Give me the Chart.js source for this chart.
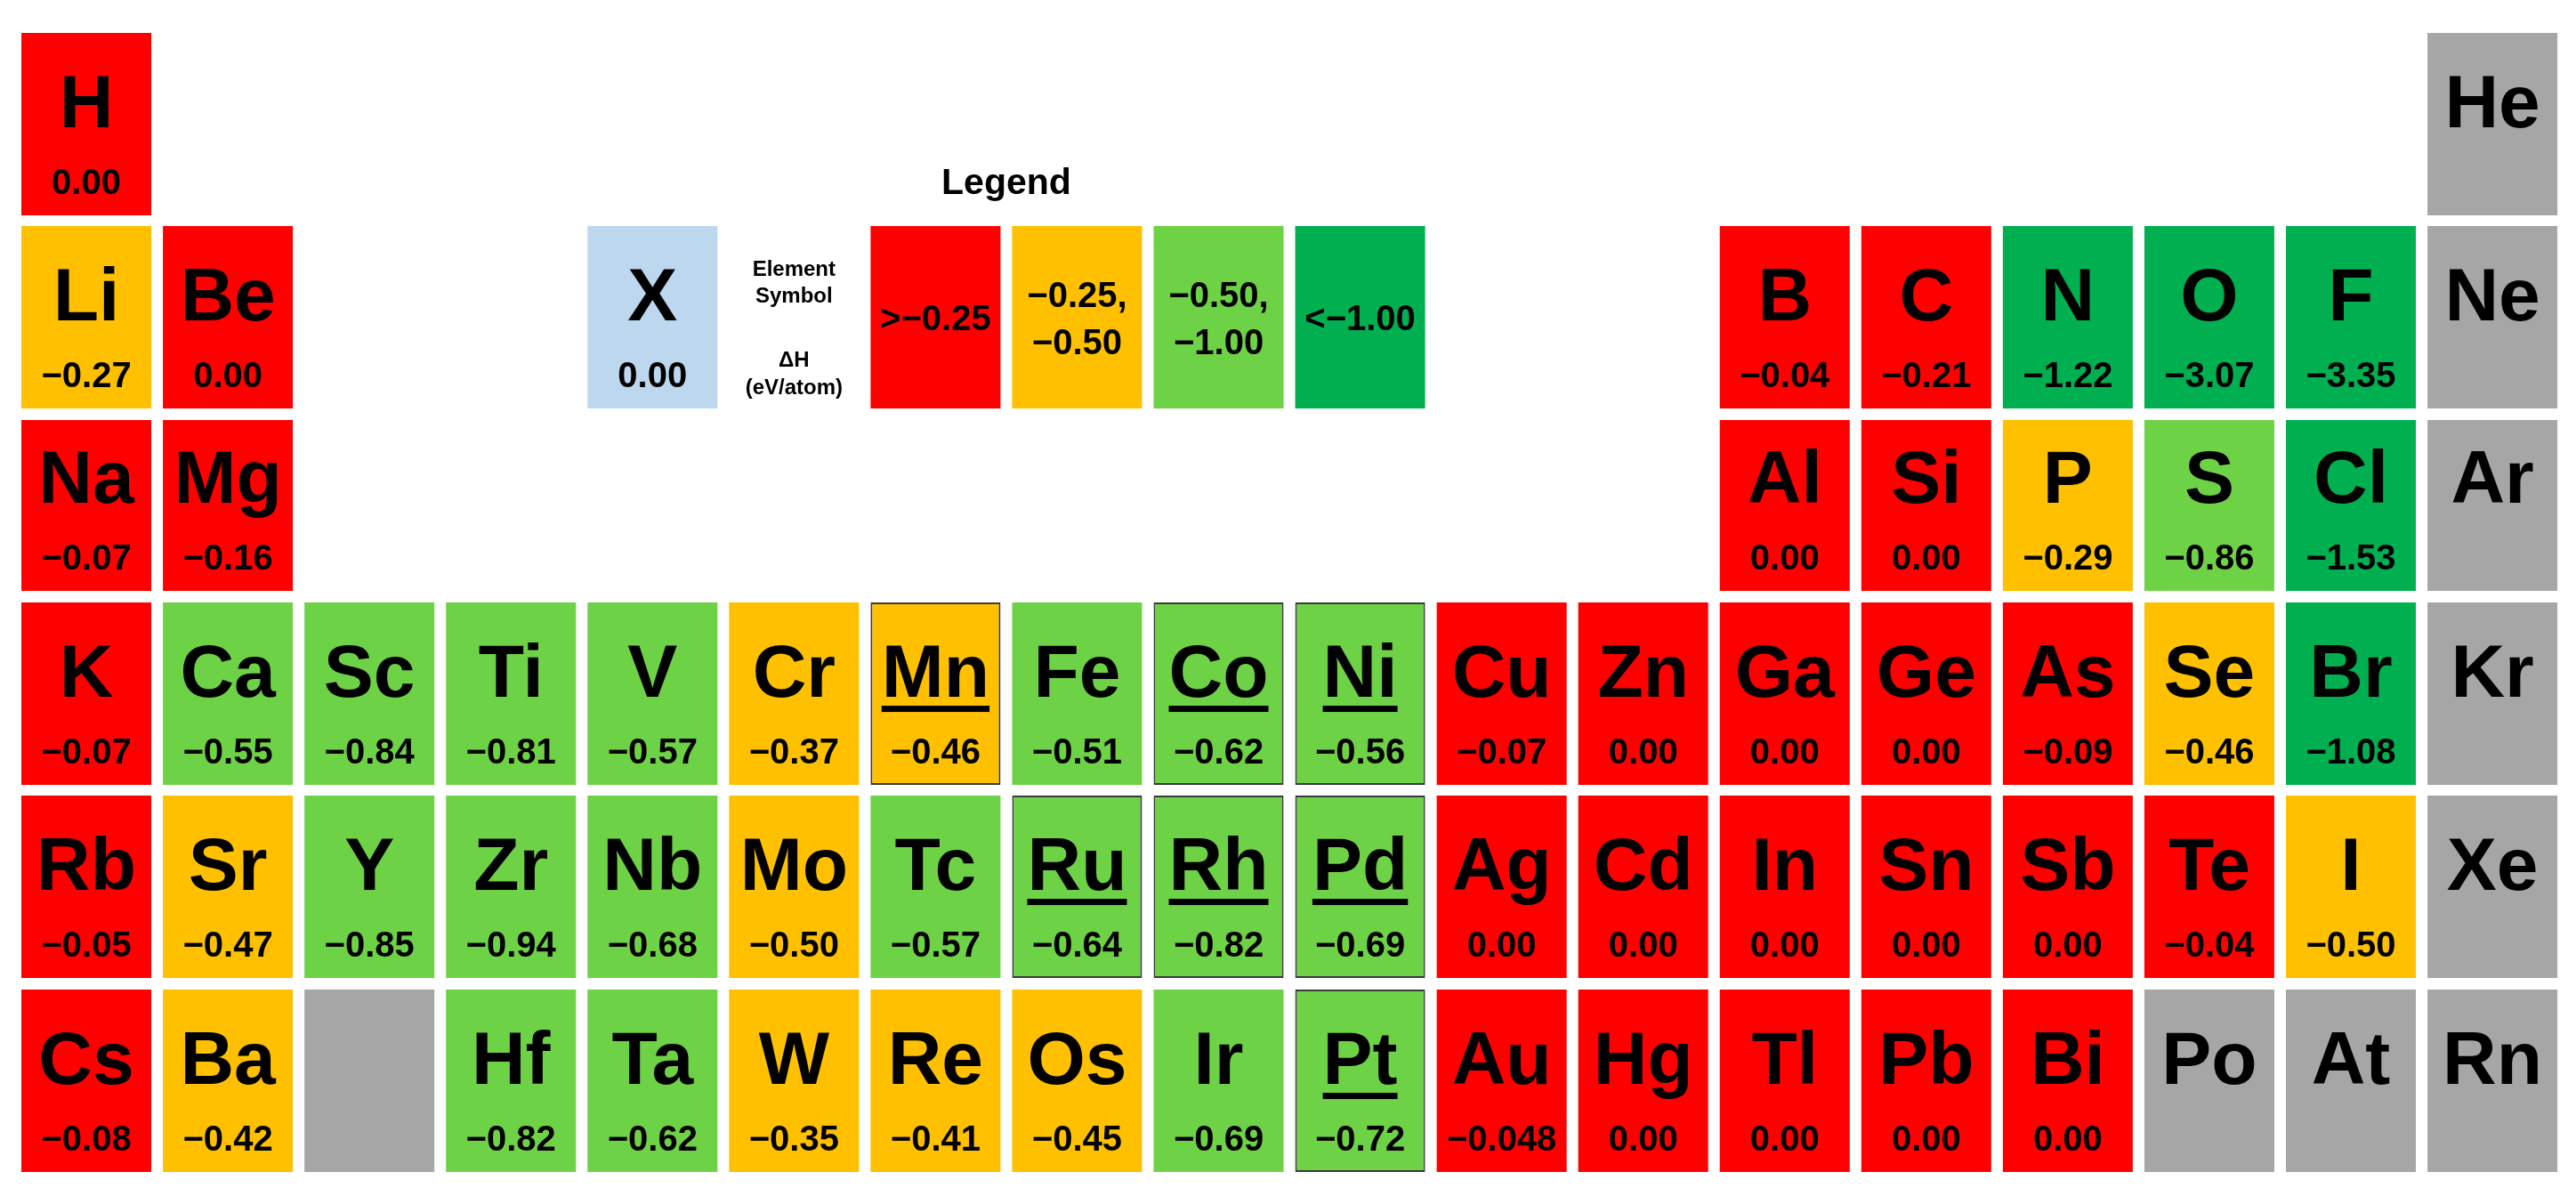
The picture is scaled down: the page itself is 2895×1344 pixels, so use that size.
<!DOCTYPE html>
<html>
<head>
<meta charset="utf-8">
<script src="https://cdn.jsdelivr.net/npm/chart.js@4.4.0/dist/chart.umd.min.js"></script>
<style>
  html, body { margin: 0; padding: 0; background: #ffffff; }
  #wrap { width: 2895px; height: 1344px; position: relative; }
</style>
</head>
<body>
<div id="wrap"><canvas id="c"></canvas></div>
<script>
// ---------------- DATA ----------------
const N = null;
const groups = ['1','2','3','4','5','6','7','8','9','10','11','12','13','14','15','16','17','18'];

const period1Symbols = ['H',N,N,N,N,N,N,N,N,N,N,N,N,N,N,N,N,'He'];
const period1Values  = [0.00,N,N,N,N,N,N,N,N,N,N,N,N,N,N,N,N,N];

const period2Symbols = ['Li','Be',N,N,N,N,N,N,N,N,N,N,'B','C','N','O','F','Ne'];
const period2Values  = [-0.27,0.00,N,N,N,N,N,N,N,N,N,N,-0.04,-0.21,-1.22,-3.07,-3.35,N];

const period3Symbols = ['Na','Mg',N,N,N,N,N,N,N,N,N,N,'Al','Si','P','S','Cl','Ar'];
const period3Values  = [-0.07,-0.16,N,N,N,N,N,N,N,N,N,N,0.00,0.00,-0.29,-0.86,-1.53,N];

const period4Symbols = ['K','Ca','Sc','Ti','V','Cr','Mn','Fe','Co','Ni','Cu','Zn','Ga','Ge','As','Se','Br','Kr'];
const period4Values  = [-0.07,-0.55,-0.84,-0.81,-0.57,-0.37,-0.46,-0.51,-0.62,-0.56,-0.07,0.00,0.00,0.00,-0.09,-0.46,-1.08,N];

const period5Symbols = ['Rb','Sr','Y','Zr','Nb','Mo','Tc','Ru','Rh','Pd','Ag','Cd','In','Sn','Sb','Te','I','Xe'];
const period5Values  = [-0.05,-0.47,-0.85,-0.94,-0.68,-0.50,-0.57,-0.64,-0.82,-0.69,0.00,0.00,0.00,0.00,0.00,-0.04,-0.50,N];

const period6Symbols = ['Cs','Ba','','Hf','Ta','W','Re','Os','Ir','Pt','Au','Hg','Tl','Pb','Bi','Po','At','Rn'];
const period6Values  = [-0.08,-0.42,N,-0.82,-0.62,-0.35,-0.41,-0.45,-0.69,-0.72,-0.048,0.00,0.00,0.00,0.00,N,N,N];

const highlighted = ['Mn','Co','Ni','Ru','Rh','Pd','Pt'];

const legendTitle = 'Legend';
const keySymbol = 'X';
const keyValue = 0.00;
const keyCaption = ['Element', 'Symbol', '\u0394H', '(eV/atom)'];
const legendBins = ['>\u22120.25', '\u22120.25,\n\u22120.50', '\u22120.50,\n\u22121.00', '<\u22121.00'];

// ---------------- STYLE / LAYOUT ----------------
const COLORS = { red: '#FF0000', orange: '#FFC000', lime: '#6ED246', green: '#00B050', gray: '#A6A6A6', key: '#BDD7EE', border: '#3A3A3A' };
const binColors = [COLORS.red, COLORS.orange, COLORS.lime, COLORS.green];
const rowPos  = [0, 1.0093, 1.993, 2.9767, 3.986, 5];       // row centre positions on y scale
const rowHalf = [0.4767, 0.4767, 0.4465, 0.4767, 0.4767, 0.4767];
const KEY_COL = 4, CAPTION_COL = 5, BIN_COL0 = 6, LEGEND_ROW = 1;
const FONT = '"Liberation Sans", Arial, Helvetica, sans-serif';

function colorFor(v) {
  if (v === null || v === undefined) return COLORS.gray;
  if (v > -0.25) return COLORS.red;
  if (v >= -0.50) return COLORS.orange;
  if (v >= -1.00) return COLORS.lime;
  return COLORS.green;
}
function fmt(v) {
  const dec = (String(v).split('.')[1] || '').length;
  return v.toFixed(Math.max(2, dec)).replace('-', '\u2212');
}

// ---------------- BUILD DATASETS ----------------
const periods = [
  [period1Symbols, period1Values], [period2Symbols, period2Values], [period3Symbols, period3Values],
  [period4Symbols, period4Values], [period5Symbols, period5Values], [period6Symbols, period6Values]
];

const datasets = periods.map(([syms, vals], r) => {
  const data = [], bg = [], bw = [];
  syms.forEach((s, c) => {
    if (s === null) return;
    const v = vals[c];
    data.push({ x: groups[c], y: [rowPos[r] - rowHalf[r], rowPos[r] + rowHalf[r]], sym: s, val: v, hl: highlighted.includes(s) });
    bg.push(colorFor(v));
    bw.push(highlighted.includes(s) ? 2 : 0);
  });
  return { label: 'Period ' + (r + 1), data, backgroundColor: bg, borderWidth: bw, borderColor: COLORS.border };
});

// legend dataset
(function () {
  const r = LEGEND_ROW;
  const yr = [rowPos[r] - rowHalf[r], rowPos[r] + rowHalf[r]];
  const data = [{ x: groups[KEY_COL], y: yr, sym: keySymbol, val: keyValue, hl: false }];
  const bg = [COLORS.key];
  legendBins.forEach((lab, i) => {
    data.push({ x: groups[BIN_COL0 + i], y: yr, bin: lab });
    bg.push(binColors[i]);
  });
  datasets.push({ label: 'Legend', data, backgroundColor: bg, borderWidth: 0, borderColor: COLORS.border });
})();

// ---------------- TEXT PLUGIN ----------------
const textPlugin = {
  id: 'cellText',
  afterDatasetsDraw(chart) {
    const ctx = chart.ctx;
    ctx.save();
    ctx.fillStyle = '#000';
    ctx.textAlign = 'center';
    ctx.textBaseline = 'alphabetic';
    chart.data.datasets.forEach((ds, i) => {
      const meta = chart.getDatasetMeta(i);
      meta.data.forEach((bar, j) => {
        const raw = ds.data[j];
        const p = bar.getProps(['x', 'y', 'base'], true);
        const top = Math.min(p.y, p.base), bottom = Math.max(p.y, p.base);
        if (raw.bin !== undefined) {
          const lines = raw.bin.split('\n');
          ctx.font = 'bold 40px ' + FONT;
          const mid = (top + bottom) / 2;
          const lh = 53;
          lines.forEach((ln, k) => {
            ctx.fillText(ln, p.x, mid + 14.5 - (lines.length - 1) * lh / 2 + k * lh);
          });
          return;
        }
        if (raw.sym) {
          ctx.font = 'bold 84px ' + FONT;
          const by = bottom - 99;
          ctx.fillText(raw.sym, p.x, by);
          if (raw.hl) {
            const w = ctx.measureText(raw.sym).width;
            ctx.fillRect(p.x - w / 2, by + 10, w, 7);
          }
        }
        if (raw.val !== null && raw.val !== undefined) {
          ctx.font = 'bold 40px ' + FONT;
          ctx.fillText(fmt(raw.val), p.x, bottom - 24);
        }
      });
    });
    // caption & legend title
    const xs = chart.scales.x, ys = chart.scales.y;
    const r = LEGEND_ROW;
    const rTop = ys.getPixelForValue(rowPos[r] - rowHalf[r]);
    const rBot = ys.getPixelForValue(rowPos[r] + rowHalf[r]);
    const cx = xs.getPixelForValue(CAPTION_COL);
    ctx.font = 'bold 24px ' + FONT;
    const capOffsets = [149, 119, 47, 16];
    keyCaption.forEach((t, k) => ctx.fillText(t, cx, rBot - capOffsets[k]));
    ctx.font = 'bold 41px ' + FONT;
    const tx = (xs.getPixelForValue(BIN_COL0) + xs.getPixelForValue(BIN_COL0 + 1)) / 2;
    ctx.fillText(legendTitle, tx, rTop - 36);
    ctx.restore();
  }
};

new Chart(document.getElementById('c'), {
  type: 'bar',
  data: { labels: groups, datasets },
  options: {
    responsive: true,
    maintainAspectRatio: false,
    animation: false,
    events: [],
    layout: { padding: { left: 17.5, right: 14.4, top: 0, bottom: 0 } },
    plugins: { legend: { display: false }, tooltip: { enabled: false } },
    datasets: { bar: { grouped: false, categoryPercentage: 1, barPercentage: 0.918, borderSkipped: false } },
    scales: {
      x: { display: false, offset: true, grid: { display: false } },
      y: { display: false, reverse: true, min: -0.649, max: 5.602, bounds: 'data' }
    }
  },
  plugins: [textPlugin]
});
</script>
</body>
</html>
